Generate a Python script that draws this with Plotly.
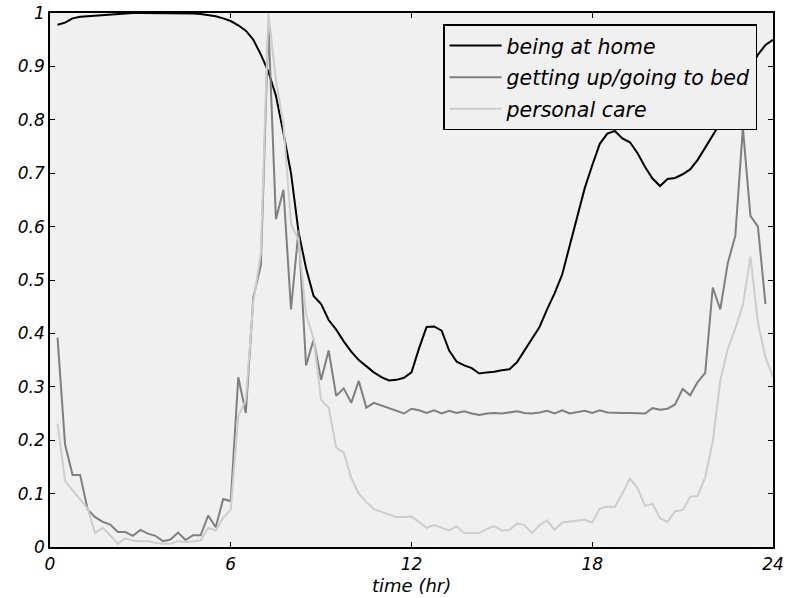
import plotly.graph_objects as go

# Time of day (hours), quarter-hour resolution
hours = [q / 4 for q in range(1, 97)]

# Share of people doing each activity
at_home = [
    0.978, 0.982, 0.990, 0.993, 0.994, 0.995, 0.997, 0.998, 0.999, 1.000, 1.000, 1.000,
    1.000, 1.000, 1.000, 1.000, 1.000, 0.999, 0.999, 0.998, 0.996, 0.994, 0.990, 0.985,
    0.977, 0.967, 0.950, 0.922, 0.890, 0.845, 0.775, 0.700, 0.590, 0.522, 0.470, 0.455,
    0.425, 0.407, 0.385, 0.366, 0.350, 0.338, 0.327, 0.318, 0.312, 0.313, 0.317, 0.327,
    0.372, 0.412, 0.413, 0.405, 0.368, 0.347, 0.340, 0.335, 0.325, 0.327, 0.328, 0.331,
    0.333, 0.346, 0.368, 0.390, 0.412, 0.445, 0.475, 0.510, 0.565, 0.620, 0.672, 0.715,
    0.755, 0.774, 0.779, 0.765, 0.758, 0.738, 0.712, 0.690, 0.676, 0.689, 0.691, 0.698,
    0.707, 0.725, 0.748, 0.770, 0.792, 0.815, 0.840, 0.868, 0.895, 0.922, 0.940, 0.950,
]

getting_up = [
    0.392, 0.192, 0.135, 0.135, 0.070, 0.056, 0.047, 0.042, 0.028, 0.028, 0.021, 0.032,
    0.025, 0.021, 0.011, 0.014, 0.027, 0.013, 0.022, 0.022, 0.059, 0.037, 0.090, 0.086,
    0.318, 0.251, 0.468, 0.528, 0.980, 0.614, 0.669, 0.445, 0.593, 0.340, 0.388, 0.313,
    0.368, 0.283, 0.297, 0.270, 0.311, 0.261, 0.270, 0.265, 0.260, 0.256, 0.250, 0.259,
    0.256, 0.251, 0.256, 0.250, 0.255, 0.251, 0.254, 0.250, 0.247, 0.250, 0.251, 0.250,
    0.252, 0.254, 0.251, 0.250, 0.252, 0.255, 0.250, 0.256, 0.250, 0.252, 0.255, 0.251,
    0.256, 0.252, 0.251, 0.251, 0.251, 0.251, 0.250, 0.260, 0.257, 0.259, 0.267, 0.296,
    0.284, 0.309, 0.326, 0.486, 0.445, 0.532, 0.583, 0.785, 0.620, 0.600, 0.455, None,
]

personal_care = [
    0.231, 0.124, 0.106, 0.090, 0.072, 0.026, 0.036, 0.022, 0.006, 0.016, 0.012, 0.011,
    0.011, 0.008, 0.006, 0.006, 0.011, 0.009, 0.011, 0.012, 0.036, 0.031, 0.055, 0.070,
    0.245, 0.275, 0.460, 0.550, 1.000, 0.875, 0.790, 0.605, 0.575, 0.436, 0.390, 0.275,
    0.261, 0.186, 0.177, 0.129, 0.100, 0.084, 0.071, 0.066, 0.062, 0.056, 0.056, 0.057,
    0.047, 0.036, 0.041, 0.036, 0.031, 0.039, 0.026, 0.026, 0.026, 0.034, 0.039, 0.031,
    0.032, 0.044, 0.041, 0.026, 0.041, 0.050, 0.032, 0.046, 0.048, 0.050, 0.051, 0.046,
    0.072, 0.076, 0.075, 0.100, 0.128, 0.111, 0.077, 0.081, 0.054, 0.047, 0.067, 0.069,
    0.094, 0.096, 0.131, 0.197, 0.312, 0.371, 0.409, 0.453, 0.544, 0.420, 0.355, 0.318,
]

series = [
    ("being at home", at_home, "#000000"),
    ("getting up/going to bed", getting_up, "#7f7f7f"),
    ("personal care", personal_care, "#cdcdcd"),
]

x_ticks = [0, 6, 12, 18, 24]
y_ticks = [0, 0.1, 0.2, 0.3, 0.4, 0.5, 0.6, 0.7, 0.8, 0.9, 1]
y_labels = ["0", "0.1", "0.2", "0.3", "0.4", "0.5", "0.6", "0.7", "0.8", "0.9", "1"]
x_title = "time (hr)"

FONT = dict(family="DejaVu Sans", style="italic", color="#000000")

fig = go.Figure()
for name, vals, color in series:
    fig.add_trace(go.Scatter(
        x=hours, y=vals, name=name, mode="lines",
        line=dict(color=color, width=2),
        legendgroup=name, connectgaps=False,
    ))

axis_common = dict(
    showline=True, linecolor="#000000", linewidth=1.5, mirror="ticks",
    ticks="inside", ticklen=5, tickcolor="#000000", tickwidth=1,
    showgrid=False, zeroline=False, automargin=False,
    tickfont=dict(FONT, size=17),
)

fig.update_xaxes(
    range=[0, 24], tickvals=x_ticks, ticktext=[str(v) for v in x_ticks],
    ticklabelstandoff=1,
    **axis_common,
)
fig.update_yaxes(
    range=[0, 1], tickvals=y_ticks, ticktext=y_labels,
    **axis_common,
)

# x-axis caption placed just under the tick labels
fig.add_annotation(
    text=x_title, x=12, xref="x", y=0, yref="paper",
    xanchor="center", yanchor="middle", yshift=-38,
    showarrow=False, font=dict(FONT, size=18),
)

fig.update_layout(
    width=795, height=598,
    margin=dict(l=50, r=22, t=13, b=51),
    paper_bgcolor="#ffffff", plot_bgcolor="#f0f0f0",
    font=dict(FONT, size=17),
    showlegend=True,
    legend=dict(
        x=0.978, y=0.979, xanchor="right", yanchor="top",
        bgcolor="#f0f0f0", bordercolor="#000000", borderwidth=1.5,
        font=dict(FONT, size=20.5), tracegroupgap=2,
        itemwidth=52,
    ),
)

fig.write_html("out.html")
